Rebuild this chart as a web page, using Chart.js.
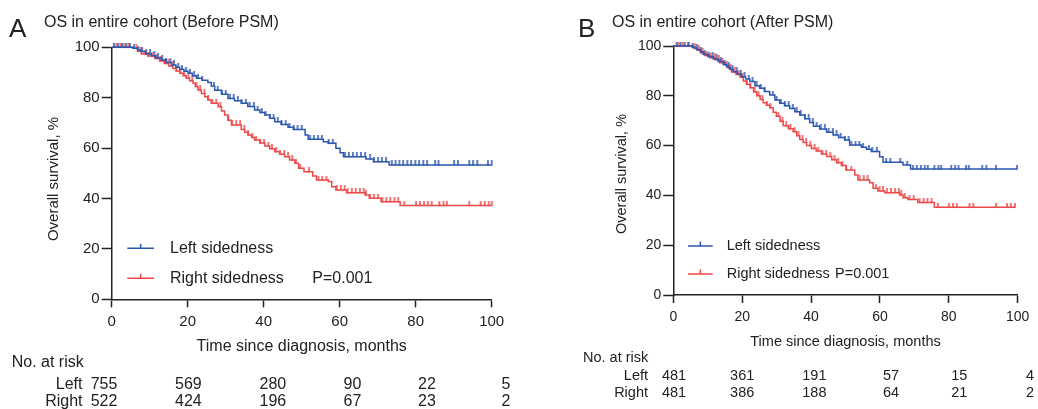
<!DOCTYPE html>
<html><head><meta charset="utf-8">
<script src="https://cdn.jsdelivr.net/npm/chart.js@4.4.1/dist/chart.umd.min.js"></script>
<style>
html,body{margin:0;padding:0;background:#fff;}
#wrap{position:relative;width:1038px;height:409px;overflow:hidden;}
.pane{position:absolute;top:0;width:519px;height:409px;}
canvas{display:block;}
</style></head><body>
<div id="wrap">
<div class="pane" style="left:0"><canvas id="cA" width="519" height="409" style="width:519px;height:409px"></canvas></div>
<div class="pane" style="left:519px"><canvas id="cB" width="519" height="409" style="width:519px;height:409px"></canvas></div>
</div>
<script>
// ---------- DATA ----------
const monthTicks = [0, 20, 40, 60, 80, 100];
const seriesNames = ['Left sidedness', 'Right sidedness'];
const pValue = 'P=0.001';

// Panel A (Before PSM): Kaplan-Meier steps [month, survival %]
const aLeftSteps = [[0,100],[5.5,99.6],[6.8,98.9],[7.8,98.3],[9.0,97.4],[10.4,96.6],[11.6,95.8],[13.1,95.0],[14.3,94.0],[15.7,93.0],[16.9,92.1],[17.9,91.3],[19.0,90.5],[20.1,89.7],[21.2,88.7],[22.3,87.7],[23.8,86.9],[25.3,86.0],[26.2,84.6],[27.1,83.0],[28.9,81.4],[30.6,79.7],[32.3,78.8],[34.1,77.8],[35.8,76.5],[37.6,75.1],[39.0,74.1],[40.3,73.1],[41.6,71.8],[42.9,70.5],[44.6,69.4],[46.4,68.3],[47.8,67.4],[50.9,65.2],[51.7,63.5],[55.7,62.5],[57.0,61.9],[59.0,59.9],[60.1,58.2],[61.0,56.6],[66.9,55.7],[68.9,54.6],[73.0,53.3]];
const aLeftCensor = [0.6,1.7,2.7,3.8,4.8,5.9,7.0,8.0,9.1,10.1,11.2,12.2,13.3,14.3,15.4,16.4,17.5,18.5,19.6,20.6,21.7,22.7,23.8,26.9,27.9,29.0,30.0,31.1,32.1,33.2,34.2,35.3,36.3,37.4,38.4,39.5,40.5,41.6,42.6,43.7,44.7,45.8,46.8,47.9,48.9,50.0,52.2,53.2,54.3,55.3,57.1,58.2,61.4,62.4,63.5,64.5,65.6,66.7,68.0,69.0,70.1,71.1,72.2,73.7,74.7,75.7,76.7,77.8,78.8,79.9,80.9,82.0,83.0,85.1,86.0,90.1,91.1,94.1,95.1,96.2,99.0,100];
const aRightSteps = [[0,100],[5.6,99.6],[6.8,98.4],[7.8,97.3],[9.5,96.5],[11.3,95.6],[12.6,94.6],[13.9,93.6],[15.0,92.6],[16.1,91.6],[17.0,90.6],[17.9,89.7],[18.8,88.7],[19.6,87.7],[20.5,86.7],[21.4,85.7],[22.0,84.4],[22.7,83.1],[23.6,81.7],[24.5,80.4],[25.3,79.1],[26.2,77.8],[28.0,76.4],[28.9,74.7],[29.7,73.1],[30.6,71.1],[31.5,69.2],[34.1,67.4],[35.0,66.3],[35.9,65.2],[36.8,64.2],[37.6,63.2],[39.0,62.0],[40.3,60.8],[41.6,59.7],[42.9,58.6],[44.2,57.6],[45.5,56.6],[46.8,55.3],[48.2,54.0],[49.2,52.0],[50.6,50.6],[52.9,48.9],[53.9,47.3],[57.0,46.7],[57.9,44.7],[59.0,43.4],[61.8,42.3],[66.7,41.4],[67.8,40.1],[70.9,38.7],[75.9,37.2]];
const aRightCensor = [1.2,2.3,3.3,4.4,6.5,7.6,8.6,9.7,10.7,11.8,12.8,13.9,14.9,16.0,17.0,18.1,19.1,20.2,21.2,22.3,23.3,24.4,25.4,26.5,27.5,28.6,30.7,31.7,32.8,33.8,34.9,35.9,37.0,38.0,39.1,40.1,41.2,42.2,43.3,44.3,45.4,46.4,47.5,48.5,49.6,51.9,54.4,55.4,56.5,59.2,60.3,61.3,62.1,63.2,64.2,65.3,66.3,66.9,68.0,69.0,70.1,71.2,72.3,73.3,74.4,75.4,77.0,80.1,81.1,82.2,83.2,84.2,86.2,87.3,88.2,94.1,97.1,98.2,99.2,100];
const aRiskLeft = [755, 569, 280, 90, 22, 5];
const aRiskRight = [522, 424, 196, 67, 23, 2];

// Panel B (After PSM)
const bLeftSteps = [[0,100],[5.5,99.5],[6.3,99.0],[7.0,98.5],[7.8,97.7],[8.7,96.6],[10.0,95.8],[11.6,94.8],[13.0,93.8],[14.5,92.6],[15.5,91.6],[16.5,90.6],[17.4,89.7],[18.6,88.7],[19.8,87.7],[21.0,86.7],[22.2,85.7],[23.7,84.0],[25.1,83.0],[26.5,81.7],[28.0,80.3],[29.5,78.3],[30.9,77.0],[32.3,76.0],[33.8,74.9],[35.3,73.6],[36.7,72.3],[38.2,70.8],[39.6,69.3],[40.7,67.8],[42.5,66.7],[44.5,65.4],[46.4,64.3],[48.0,63.3],[49.8,62.2],[51.2,60.2],[54.6,59.3],[56.1,58.5],[57.5,57.6],[59.9,55.5],[60.9,53.3],[66.7,52.2],[68.9,50.6]];
const bLeftCensor = [1.0,2.1,3.3,4.5,5.6,6.8,8.0,9.1,10.3,11.4,12.6,13.8,14.9,16.1,17.2,18.4,19.6,20.7,21.9,23.0,24.2,25.4,26.5,28.9,30.0,31.2,32.4,33.5,34.7,35.8,37.0,38.2,39.3,40.5,41.6,42.8,44.0,45.1,46.3,47.4,48.6,49.8,50.9,51.7,52.9,54.0,55.1,56.8,57.8,59.1,61.8,63.0,65.9,67.9,69.6,70.7,71.9,73.0,73.9,75.8,77.0,77.8,80.7,81.8,82.8,85.0,85.8,89.7,90.9,93.7,99.8];
const bRightSteps = [[0,100],[5.8,99.2],[6.8,98.4],[8.0,97.2],[9.2,96.2],[10.6,95.3],[12.1,94.5],[13.5,93.3],[15.0,92.3],[16.0,91.0],[16.9,89.6],[18.2,88.6],[19.4,87.5],[20.3,85.9],[21.3,84.6],[22.3,83.2],[23.3,81.6],[24.2,80.0],[25.2,78.5],[26.1,77.2],[27.1,76.2],[28.0,75.2],[29.0,73.4],[29.9,71.8],[31.0,69.8],[31.9,68.0],[33.4,66.8],[34.8,65.6],[35.8,64.0],[36.7,62.5],[37.7,61.2],[38.7,60.0],[40.1,58.8],[41.5,57.8],[43.0,56.6],[44.5,55.6],[46.0,54.3],[47.4,53.1],[48.8,52.0],[50.2,50.2],[52.7,48.2],[53.6,46.2],[57.0,45.1],[58.0,42.9],[59.4,41.8],[61.4,41.1],[65.7,40.2],[66.7,39.1],[68.1,38.4],[71.0,37.1],[75.8,35.2]];
const bRightCensor = [1.5,2.7,4.2,6.2,7.4,8.5,9.7,10.8,12.0,13.2,14.3,15.5,16.6,17.8,19.0,20.1,21.3,22.4,23.6,24.7,25.9,27.1,28.2,30.5,31.7,32.8,34.0,35.2,36.3,37.5,38.6,39.8,41.0,42.1,43.3,44.4,45.6,46.8,47.9,49.1,50.2,51.7,54.1,55.3,56.4,58.8,59.9,60.9,62.0,63.2,64.4,65.5,66.2,67.2,68.6,69.8,71.5,72.7,73.8,75.0,76.8,80.0,81.2,82.3,86.0,87.1,93.7,96.9,98.0,99.2];
const bRiskLeft = [481, 361, 191, 57, 15, 4];
const bRiskRight = [481, 386, 188, 64, 21, 2];

// ---------- STYLE / LAYOUT ----------
const FONT = "'Liberation Sans', Arial, Helvetica, sans-serif";
const INK = '#222';
const BLUE = '#2c57b0';
const RED = '#ee4848';

function levelAt(steps, t) {
  let s = steps[0][1];
  for (const [tt, ss] of steps) { if (tt <= t) s = ss; else break; }
  return s;
}
function tickImage(color, h) {
  const c = document.createElement('canvas');
  c.width = 4; c.height = Math.round(h * 2);
  const g = c.getContext('2d');
  g.fillStyle = color;
  g.fillRect(1.25, 0, 1.5, c.height / 2 + 0.6);
  return c;
}
function stepLine(steps, censor) {
  const pts = steps.map(([x, y]) => ({x, y}));
  const end = Math.max(...censor);
  pts.push({x: end, y: levelAt(steps, end)});
  return pts;
}

const overlay = {
  id: 'overlay',
  afterDraw(chart, args, o) {
    const ctx = chart.ctx, xs = chart.scales.x;
    ctx.save();
    ctx.fillStyle = INK; ctx.textAlign = 'left'; ctx.textBaseline = 'alphabetic';
    ctx.font = o.letterSize + 'px ' + FONT;
    ctx.fillText(o.letter, o.letterX, o.letterY);
    ctx.font = o.titleSize + 'px ' + FONT;
    ctx.fillText(o.title, o.titleX, o.titleY);
    // y-axis title
    ctx.save();
    ctx.translate(o.yTitleX, o.yTitleY);
    ctx.rotate(-Math.PI / 2);
    ctx.textAlign = 'center'; ctx.textBaseline = 'middle';
    ctx.font = o.yTitleSize + 'px ' + FONT;
    ctx.fillText('Overall survival, %', 0, 0);
    ctx.restore();
    // legend
    const rows = [{c: BLUE, y: o.legY[0], t: seriesNames[0]}, {c: RED, y: o.legY[1], t: seriesNames[1]}];
    ctx.lineWidth = 1.5;
    rows.forEach(r => {
      ctx.strokeStyle = r.c;
      ctx.beginPath();
      ctx.moveTo(o.legX0, r.y); ctx.lineTo(o.legX1, r.y);
      const mx = (o.legX0 + o.legX1) / 2;
      ctx.moveTo(mx, r.y); ctx.lineTo(mx, r.y - 4.5);
      ctx.stroke();
      ctx.fillStyle = INK; ctx.textBaseline = 'middle'; ctx.textAlign = 'left'; ctx.font = o.legSize + 'px ' + FONT;
      ctx.fillText(r.t, o.legTextX, r.y);
    });
    ctx.fillText(pValue, o.pX, o.legY[1]);
    // risk table
    ctx.font = o.riskSize + 'px ' + FONT;
    ctx.textAlign = 'left';
    ctx.fillText('No. at risk', o.riskHeadX, o.riskY[0]);
    ctx.textAlign = 'right';
    ctx.fillText('Left', o.riskLabelX, o.riskY[1]);
    ctx.fillText('Right', o.riskLabelX, o.riskY[2]);
    ctx.textAlign = 'center';
    monthTicks.forEach((m, i) => {
      const x = xs.getPixelForValue(m) + o.riskOff[i];
      ctx.fillText(String(o.riskL[i]), x, o.riskY[1]);
      ctx.fillText(String(o.riskR[i]), x, o.riskY[2]);
    });
    ctx.restore();
  }
};

function makePanel(id, P) {
  const H = 409;
  const tickA = tickImage(BLUE, 4.5), tickB = tickImage(RED, 4.5);
  return new Chart(document.getElementById(id), {
    type: 'scatter',
    data: {
      datasets: [
        {data: stepLine(P.leftSteps, P.leftCensor), showLine: true, stepped: true, borderColor: BLUE, borderWidth: 1.5, pointRadius: 0, clip: false},
        {data: P.leftCensor.map(t => ({x: t, y: levelAt(P.leftSteps, t)})), showLine: false, pointStyle: tickA, pointRadius: 4, clip: false},
        {data: stepLine(P.rightSteps, P.rightCensor), showLine: true, stepped: true, borderColor: RED, borderWidth: 1.5, pointRadius: 0, clip: false},
        {data: P.rightCensor.map(t => ({x: t, y: levelAt(P.rightSteps, t)})), showLine: false, pointStyle: tickB, pointRadius: 4, clip: false}
      ]
    },
    options: {
      responsive: false, animation: false, events: [],
      layout: {padding: {top: P.top, right: P.right, left: 0, bottom: 0}},
      plugins: {legend: {display: false}, tooltip: {enabled: false}, overlay: P.ov},
      scales: {
        x: {
          type: 'linear', min: 0, max: 100,
          afterFit(s) { s.height = H - P.bottom; },
          ticks: {stepSize: 20, autoSkip: false, maxRotation: 0, padding: 6, color: INK, font: {size: P.tickSize, family: FONT}},
          grid: {display: true, drawOnChartArea: false, drawTicks: true, tickLength: 8, tickColor: INK, tickWidth: 1.5},
          border: {display: true, color: INK, width: 1.5},
          title: {display: true, text: 'Time since diagnosis, months', color: INK, font: {size: P.xTitleSize, family: FONT}, padding: {top: 0, bottom: H - P.xTitleY - P.xTitleSize * 0.6}}
        },
        y: {
          min: 0, max: 100,
          afterFit(s) { s.width = P.left; },
          ticks: {stepSize: 20, padding: 2, color: INK, font: {size: P.tickSize, family: FONT}},
          grid: {display: true, drawOnChartArea: false, drawTicks: true, tickLength: 10, tickColor: INK, tickWidth: 1.5},
          border: {display: true, color: INK, width: 1.5},
          title: {display: false}
        }
      }
    },
    plugins: [overlay]
  });
}

makePanel('cA', {
  leftSteps: aLeftSteps, leftCensor: aLeftCensor, rightSteps: aRightSteps, rightCensor: aRightCensor,
  top: 47.3, right: 519 - 491.7, bottom: 299.3, left: 111.7,
  tickSize: 15, xTitleSize: 16, xTitleY: 347,
  ov: {letter: 'A', letterSize: 26, letterX: 9, letterY: 37, title: 'OS in entire cohort (Before PSM)', titleSize: 16, titleX: 44, titleY: 26.5,
       yTitleX: 54, yTitleY: 179, yTitleSize: 15,
       legX0: 127.3, legX1: 154, legY: [248.3, 278.3], legTextX: 170, legSize: 16, pX: 312.3,
       riskSize: 16, riskHeadX: 11.7, riskLabelX: 82.5, riskY: [363, 385, 402], riskOff: [-7.7, 0.7, 9.2, 12.7, 11.3, 14.3],
       riskL: aRiskLeft, riskR: aRiskRight}
});

makePanel('cB', {
  leftSteps: bLeftSteps, leftCensor: bLeftCensor, rightSteps: bRightSteps, rightCensor: bRightCensor,
  top: 46, right: 1038 - 1017.7, bottom: 295, left: 673.3 - 519,
  tickSize: 14, xTitleSize: 14.5, xTitleY: 341.5,
  ov: {letter: 'B', letterSize: 26, letterX: 578 - 519, letterY: 37, title: 'OS in entire cohort (After PSM)', titleSize: 16, titleX: 612 - 519, titleY: 26.5,
       yTitleX: 621.5 - 519, yTitleY: 174, yTitleSize: 14.5,
       legX0: 688 - 519, legX1: 712.7 - 519, legY: [246, 274], legTextX: 726.7 - 519, legSize: 14.5, pX: 835 - 519,
       riskSize: 14.5, riskHeadX: 583 - 519, riskLabelX: 648 - 519, riskY: [357.5, 376, 393], riskOff: [0.7, 0, 3.3, 11, 10.5, 12.3],
       riskL: bRiskLeft, riskR: bRiskRight}
});
</script>
</body></html>
